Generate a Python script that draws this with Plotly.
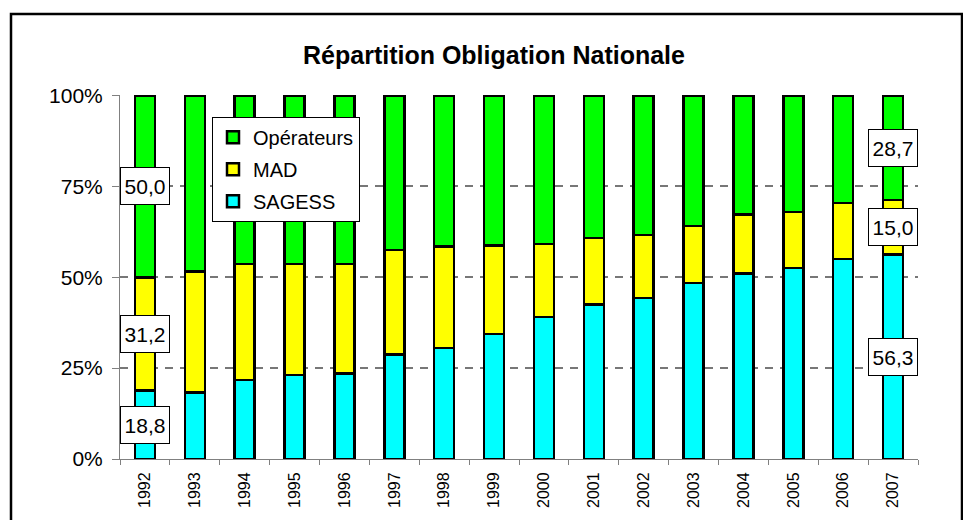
import plotly.graph_objects as go

years = [str(y) for y in range(1992, 2008)]
sagess = [18.8, 18.3, 21.7, 23.1, 23.5, 28.7, 30.5, 34.4, 39.1, 42.5, 44.3, 48.4, 51.1, 52.5, 55.0, 56.3]
mad = [31.2, 33.3, 32.0, 30.6, 30.2, 28.8, 27.9, 24.4, 20.1, 18.3, 17.4, 15.7, 16.2, 15.4, 15.4, 15.0]
operateurs = [50.0, 48.4, 46.3, 46.3, 46.3, 42.5, 41.6, 41.2, 40.8, 39.2, 38.3, 35.9, 32.7, 32.1, 29.6, 28.7]
labelled_years = ["1992", "2007"]
y_ticks = [0, 25, 50, 75, 100]
y_ticktext = ["0%", "25%", "50%", "75%", "100%"]

FONT = "Liberation Sans, Arial, sans-serif"

fig = go.Figure()
series = [("SAGESS", sagess, "#00FFFF"), ("MAD", mad, "#FFFF00"), ("Opérateurs", operateurs, "#00FF00")]
for rank, (name, vals, col) in enumerate(series):
    fig.add_trace(go.Bar(
        x=years, y=vals, name=name, legendgroup=name, legendrank=1000 - rank,
        marker=dict(color=col, line=dict(color="black", width=2.5)),
    ))

annotations = []
for yr in labelled_years:
    i = years.index(yr)
    base = 0.0
    for name, vals, col in series:
        v = vals[i]
        annotations.append(dict(
            x=i, y=base + v / 2, xref="x", yref="y",
            text=f"{v:.1f}".replace(".", ","), showarrow=False,
            font=dict(family=FONT, size=21, color="black"),
            width=42, height=30,
            bgcolor="white", bordercolor="black", borderwidth=1, borderpad=3,
        ))
        base += v

# plot area in pixels: x 120..918, y 95..464
L, R, T, B = 120, 918, 95, 464
def px(x):
    return (x - L) / (R - L)
def py(y):
    return (B - y) / (B - T)

fig.update_layout(
    width=963, height=520,
    margin=dict(l=L, r=963 - R, t=T, b=520 - B),
    paper_bgcolor="white", plot_bgcolor="white",
    barmode="stack", bargap=0.6,
    font=dict(family=FONT, color="black"),
    title=dict(text="<b>Répartition Obligation Nationale</b>", x=494 / 963, xanchor="center",
               y=1 - 55 / 520, yanchor="middle", yref="container",
               font=dict(family=FONT, size=25, color="black")),
    legend=dict(x=px(212), y=py(117), xanchor="left", yanchor="top",
                bgcolor="white", bordercolor="black", borderwidth=1,
                font=dict(family=FONT, size=20, color="black"),
                traceorder="grouped", tracegroupgap=3, itemwidth=30),
    xaxis=dict(type="category", range=[-0.5, len(years) - 0.5], autorange=False,
               showline=True, linecolor="#808080", linewidth=1,
               ticks="outside", ticklen=5, tickcolor="#808080", tickson="boundaries",
               tickangle=-90, tickfont=dict(family=FONT, size=16, color="black"),
               ticklabelstandoff=6, showgrid=False),
    yaxis=dict(range=[0, 100.15], autorange=False, tickvals=y_ticks, ticktext=y_ticktext,
               showline=True, linecolor="#808080", linewidth=1,
               ticks="outside", ticklen=7, tickcolor="#808080",
               tickfont=dict(family=FONT, size=21, color="black"), ticklabelstandoff=5,
               showgrid=True, gridcolor="#777777", gridwidth=1.5, griddash="8px,7px",
               zeroline=False),
    annotations=annotations,
    shapes=[dict(type="rect", xref="paper", yref="paper",
                 x0=px(11), x1=px(962), y0=py(530), y1=py(13),
                 line=dict(color="black", width=2.5), fillcolor="rgba(0,0,0,0)", layer="above")],
)

fig.write_html("out.html", config={"displayModeBar": False},
               post_script="document.body.style.margin='0px';")
